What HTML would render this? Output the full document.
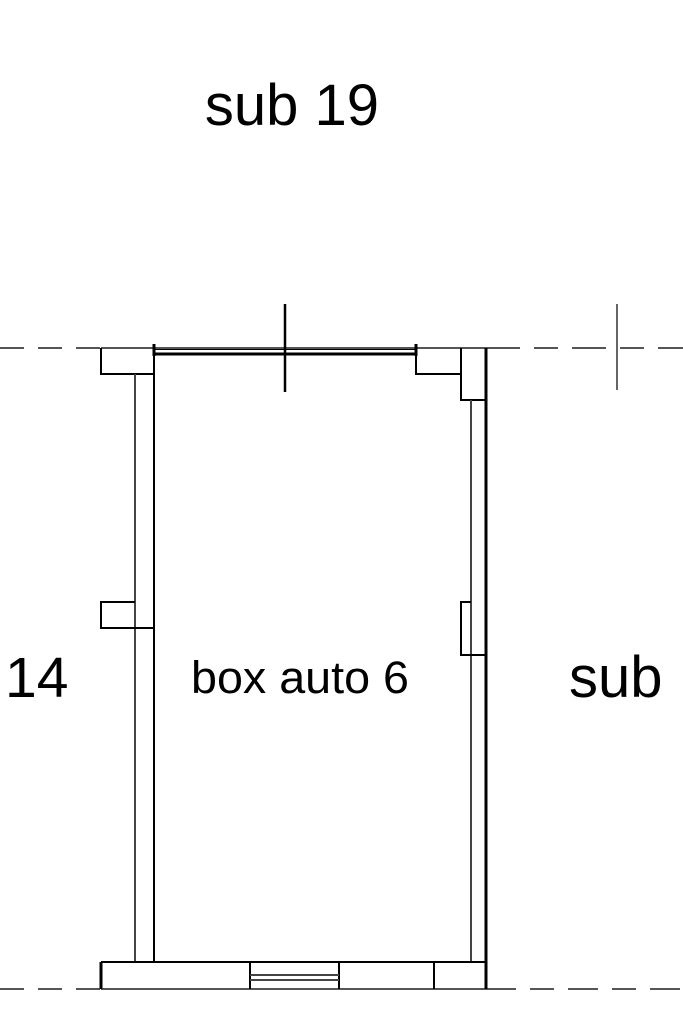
<!DOCTYPE html>
<html><head><meta charset="utf-8"><style>
html,body{margin:0;padding:0;background:#fff;}
svg{display:block}
text{font-family:"Liberation Sans",sans-serif;fill:#000}
</style></head><body>
<svg width="683" height="1023" viewBox="0 0 683 1023" xmlns="http://www.w3.org/2000/svg">
<g stroke="#555" stroke-width="2" fill="none">
<line x1="0" y1="348" x2="101" y2="348" stroke-dasharray="24,14"/>
<line x1="101" y1="348" x2="486" y2="348"/>
<line x1="486" y1="348" x2="683" y2="348" stroke-dasharray="34,14,24,14"/>
<line x1="0" y1="989" x2="101" y2="989" stroke-dasharray="24,14"/>
<line x1="101" y1="989" x2="486" y2="989"/>
<line x1="486" y1="989" x2="683" y2="989" stroke-dasharray="30,14,24,14"/>
</g>
<g stroke="#000" fill="none" stroke-width="2">
<polyline points="101,348 101,374 154,374"/>
<line x1="154" y1="348" x2="154" y2="962"/>
<line x1="135" y1="374" x2="135" y2="962" stroke="#444"/>
<line x1="154" y1="349.5" x2="416" y2="349.5" stroke-width="1"/>
<line x1="154" y1="354" x2="416" y2="354" stroke-width="3"/>
<line x1="154" y1="344" x2="154" y2="356" stroke-width="3"/>
<line x1="416" y1="344" x2="416" y2="356" stroke-width="3"/>
<line x1="285" y1="304" x2="285" y2="392" stroke-width="2.5"/>
<polyline points="416,356 416,374 461,374"/>
<polyline points="461,348 461,400 486,400"/>
<line x1="471" y1="400" x2="471" y2="962" stroke="#444"/>
<line x1="486" y1="348" x2="486" y2="989" stroke-width="3"/>
<polyline points="135,602 101,602 101,628 154,628"/>
<polyline points="471,602 461,602 461,655 486,655"/>
<line x1="617" y1="304" x2="617" y2="390" stroke-width="1.2"/>
<line x1="101" y1="962" x2="486" y2="962"/>
<line x1="101" y1="962" x2="101" y2="989" stroke-width="3"/>
<line x1="250" y1="962" x2="250" y2="989"/>
<line x1="339" y1="962" x2="339" y2="989"/>
<line x1="434" y1="962" x2="434" y2="989"/>
<line x1="250" y1="975" x2="339" y2="975" stroke="#444"/>
<line x1="250" y1="980" x2="339" y2="980" stroke="#444"/>
</g>
<text x="292" y="125" font-size="58" text-anchor="middle">sub 19</text>
<text x="5" y="697" font-size="57">14</text>
<text x="300" y="693" font-size="45" text-anchor="middle" textLength="218" lengthAdjust="spacingAndGlyphs">box auto 6</text>
<text x="569" y="697" font-size="58">sub</text>
</svg>
</body></html>
